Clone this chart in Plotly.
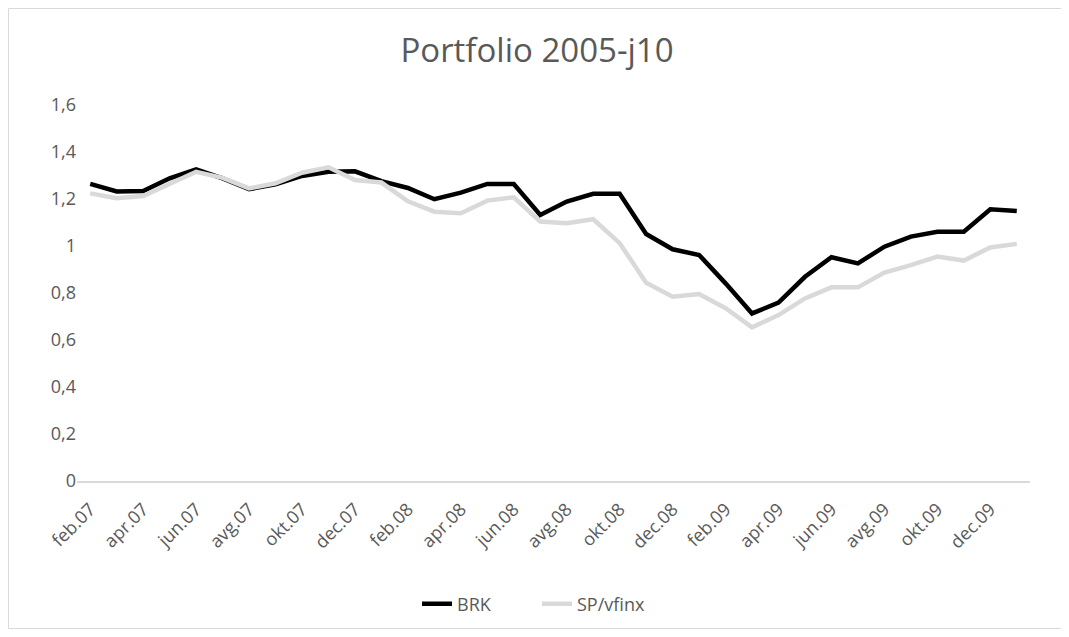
import plotly.graph_objects as go

# Mesečni podatki, feb.07 - jan.10
months = [
    "feb.07", "mar.07", "apr.07", "maj.07", "jun.07", "jul.07", "avg.07", "sep.07",
    "okt.07", "nov.07", "dec.07", "jan.08", "feb.08", "mar.08", "apr.08", "maj.08",
    "jun.08", "jul.08", "avg.08", "sep.08", "okt.08", "nov.08", "dec.08", "jan.09",
    "feb.09", "mar.09", "apr.09", "maj.09", "jun.09", "jul.09", "avg.09", "sep.09",
    "okt.09", "nov.09", "dec.09", "jan.10",
]

brk = [
    1.264, 1.232, 1.234, 1.288, 1.326, 1.288, 1.242, 1.262, 1.298, 1.316, 1.318, 1.276,
    1.247, 1.199, 1.227, 1.264, 1.264, 1.132, 1.189, 1.222, 1.222, 1.051, 0.986, 0.962,
    0.841, 0.713, 0.759, 0.869, 0.952, 0.926, 0.997, 1.040, 1.061, 1.061, 1.156, 1.149,
]

sp_vfinx = [
    1.224, 1.203, 1.213, 1.267, 1.316, 1.290, 1.245, 1.267, 1.312, 1.335, 1.281, 1.270,
    1.190, 1.146, 1.139, 1.193, 1.207, 1.104, 1.097, 1.114, 1.012, 0.844, 0.784, 0.796,
    0.735, 0.654, 0.706, 0.777, 0.824, 0.824, 0.887, 0.919, 0.955, 0.938, 0.994, 1.009,
]

tick_labels = months[::2]  # vsak drugi mesec
y_ticks = [0, 0.2, 0.4, 0.6, 0.8, 1.0, 1.2, 1.4, 1.6]

TEXT = "#595959"
FONT = "Open Sans"

fig = go.Figure()

fig.add_trace(go.Scatter(
    x=months, y=brk, mode="lines", name="BRK",
    line=dict(color="#000000", width=4.5),
))
fig.add_trace(go.Scatter(
    x=months, y=sp_vfinx, mode="lines", name="SP/vfinx",
    line=dict(color="#d9d9d9", width=4.5),
))

fig.update_layout(
    width=1058, height=621,
    margin=dict(l=69, r=36, t=97, b=148, autoexpand=False),
    paper_bgcolor="white", plot_bgcolor="white",
    separators=", ",
    font=dict(family=FONT, color=TEXT, size=18),
    title=dict(
        text="Portfolio 2005-j10", x=0.5, xanchor="center",
        y=0.932, yanchor="middle",
        font=dict(family=FONT, size=33, color=TEXT),
    ),
    showlegend=True,
    legend=dict(
        orientation="h", xref="container", yref="container",
        x=0.5, xanchor="center", y=0.04, yanchor="middle",
        entrywidth=75, entrywidthmode="pixels",
        font=dict(size=18, color=TEXT),
    ),
    xaxis=dict(
        type="category", range=[-0.5, len(months) - 0.5],
        tickmode="array", tickvals=tick_labels, ticktext=tick_labels,
        tickangle=-45, showgrid=False, showline=True, linecolor="#d9d9d9", linewidth=1.5,
        ticks="outside", ticklen=9, tickcolor="rgba(0,0,0,0)",
        tickfont=dict(size=18, color=TEXT),
    ),
    yaxis=dict(
        range=[0, 1.6], tickvals=y_ticks, showgrid=False, zeroline=False,
        showline=False, ticks="", tickfont=dict(size=18, color=TEXT),
    ),
    shapes=[dict(
        type="rect", xref="paper", yref="paper",
        x0=-0.0719, x1=1.0367, y0=-0.3923, y1=1.2566,
        line=dict(color="#d9d9d9", width=1), fillcolor="rgba(0,0,0,0)", layer="below",
    )],
)

fig.write_html("out.html")
